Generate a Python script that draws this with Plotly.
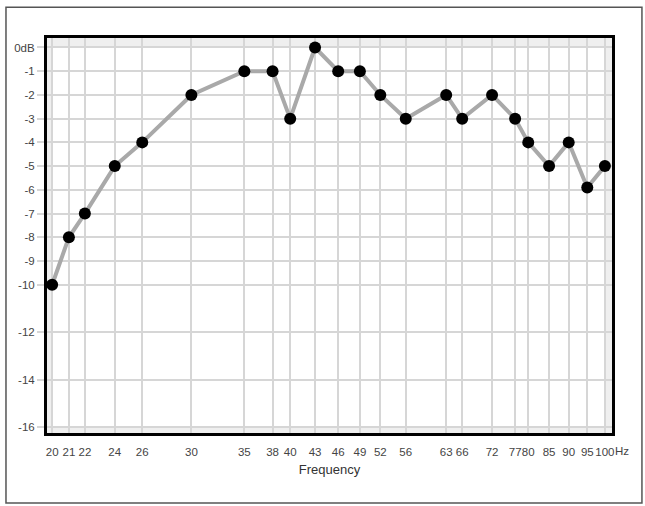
import math
import plotly.graph_objects as go

# Frequency response readings (Hz / dB)
freqs = [20, 21, 22, 24, 26, 30, 35, 38, 40, 43, 46, 49, 52, 56, 63, 66, 72, 77, 80, 85, 90, 95, 100]
levels = [-10, -8, -7, -5, -4, -2, -1, -1, -3, 0, -1, -1, -2, -3, -2, -3, -2, -3, -4, -5, -4, -5.9, -5]

x_tick_vals = freqs
x_tick_text = [str(f) for f in freqs]
x_unit = "Hz"
y_tick_vals = [0, -1, -2, -3, -4, -5, -6, -7, -8, -9, -10, -12, -14, -16]
y_tick_text = ["0dB"] + [str(v) for v in y_tick_vals[1:]]

FONT = "Liberation Sans, Arial, sans-serif"
GRID = "#d6d6d6"

fig = go.Figure()
fig.add_trace(go.Scatter(
    x=freqs,
    y=levels,
    mode="lines+markers",
    line=dict(color="#a9a9a9", width=4),
    marker=dict(color="black", size=12),
    showlegend=False,
))

x_lo = math.log10(20) - 0.0065
x_hi = 2 + 0.009
y_lo, y_hi = -16.25, 0.4

# light strip round the data area
fx0 = 0.0065 / (x_hi - x_lo)
fx1 = 1 - 0.009 / (x_hi - x_lo)
fy0 = 0.25 / (y_hi - y_lo)
fy1 = 1 - 0.4 / (y_hi - y_lo)

fig.update_layout(
    width=645,
    height=506,
    paper_bgcolor="white",
    plot_bgcolor="#efefef",
    margin=dict(l=47, r=33, t=38, b=73, autoexpand=False),
    font=dict(family=FONT, size=11.5, color="#444"),
    xaxis=dict(
        type="log",
        range=[x_lo, x_hi],
        tickmode="array",
        tickvals=x_tick_vals,
        ticktext=x_tick_text,
        tickangle=0,
        automargin=False,
        showgrid=True,
        gridcolor=GRID,
        gridwidth=1.5,
        ticks="",
        ticklabelstandoff=6,
        showline=True,
        linecolor="black",
        linewidth=3,
        mirror=True,
        zeroline=False,
        title=dict(text="Frequency", font=dict(size=13, color="#333"), standoff=9),
    ),
    yaxis=dict(
        range=[y_lo, y_hi],
        tickmode="array",
        tickvals=y_tick_vals,
        ticktext=y_tick_text,
        automargin=False,
        showgrid=True,
        gridcolor=GRID,
        gridwidth=1.5,
        ticks="outside",
        ticklen=7,
        tickcolor=GRID,
        tickwidth=1.5,
        showline=True,
        linecolor="black",
        linewidth=3,
        mirror=True,
        zeroline=False,
    ),
    shapes=[
        dict(type="rect", xref="x domain", yref="y domain",
             x0=fx0, x1=fx1, y0=fy0, y1=fy1,
             fillcolor="white", line=dict(width=0), layer="below"),
        dict(type="rect", xref="paper", yref="paper",
             x0=-0.0726, x1=1.053, y0=-0.177, y1=1.078,
             line=dict(color="#555", width=1.5), fillcolor="rgba(0,0,0,0)"),
    ],
    annotations=[
        # unit written after the last tick label
        dict(text=x_unit, xref="paper", yref="paper", x=1.003, y=0,
             xanchor="left", yanchor="top", yshift=-11, showarrow=False,
             borderpad=0, font=dict(size=11.5, color="#444")),
    ],
)

fig.write_html("out.html", config={"displayModeBar": False},
               post_script="document.body.style.margin='0';")
